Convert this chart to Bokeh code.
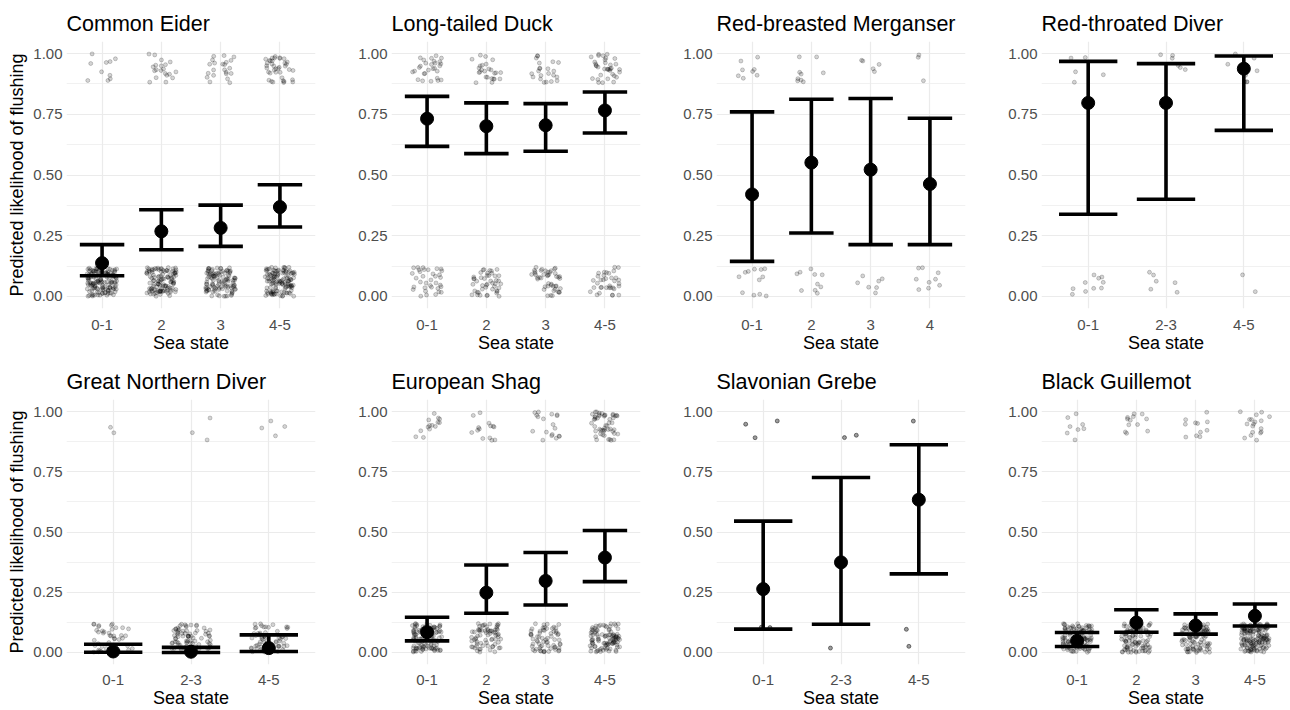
from bokeh.plotting import figure
from bokeh.layouts import row, column
from bokeh.models import ColumnDataSource, FactorRange, Range1d, FixedTicker
from bokeh.transform import jitter, dodge
from bokeh.embed import file_html
from bokeh.resources import INLINE

# ---------------- data ----------------
species = ["Common Eider", "Long-tailed Duck", "Red-breasted Merganser", "Red-throated Diver",
           "Great Northern Diver", "European Shag", "Slavonian Grebe", "Black Guillemot"]

sea_states = [
    ["0-1", "2", "3", "4-5"],
    ["0-1", "2", "3", "4-5"],
    ["0-1", "2", "3", "4"],
    ["0-1", "2-3", "4-5"],
    ["0-1", "2-3", "4-5"],
    ["0-1", "2", "3", "4-5"],
    ["0-1", "2-3", "4-5"],
    ["0-1", "2", "3", "4-5"],
]

fit = [
    [0.137, 0.268, 0.282, 0.368],
    [0.732, 0.701, 0.705, 0.766],
    [0.420, 0.551, 0.522, 0.463],
    [0.797, 0.797, 0.938],
    [0.004, 0.003, 0.018],
    [0.084, 0.248, 0.297, 0.394],
    [0.263, 0.374, 0.634],
    [0.048, 0.124, 0.112, 0.152],
]

lower = [
    [0.085, 0.192, 0.206, 0.286],
    [0.618, 0.588, 0.598, 0.673],
    [0.144, 0.261, 0.213, 0.213],
    [0.338, 0.400, 0.684],
    [0.001, 0.000, 0.004],
    [0.048, 0.163, 0.197, 0.294],
    [0.097, 0.117, 0.326],
    [0.025, 0.084, 0.076, 0.110],
]

upper = [
    [0.213, 0.357, 0.376, 0.460],
    [0.824, 0.797, 0.794, 0.842],
    [0.760, 0.812, 0.815, 0.734],
    [0.968, 0.959, 0.990],
    [0.034, 0.021, 0.073],
    [0.146, 0.363, 0.415, 0.506],
    [0.545, 0.726, 0.862],
    [0.083, 0.177, 0.160, 0.201],
]

# observed outcomes per sea state: number of birds that flushed / did not flush
n_flushed = [
    [10, 20, 22, 38],
    [28, 25, 22, 35],
    [8, 9, 5, 3],
    [5, 6, 9],
    [2, 3, 4],
    [14, 14, 18, 50],
    [3, 2, 1],
    [8, 12, 11, 18],
]

n_not_flushed = [
    [140, 115, 110, 125],
    [35, 45, 45, 35],
    [12, 10, 7, 9],
    [10, 6, 2],
    [40, 80, 60],
    [110, 70, 65, 100],
    [2, 1, 2],
    [120, 100, 100, 150],
]

y_ticks = [0.0, 0.25, 0.50, 0.75, 1.0]
y_minor_ticks = [0.125, 0.375, 0.625, 0.875]
y_tick_labels = ["0.00", "0.25", "0.50", "0.75", "1.00"]

x_title = "Sea state"
y_title = "Predicted likelihood of flushing"

# ---------------- styling / layout ----------------
FONT = "Liberation Sans"
GRID = "#EBEBEB"
col_width = [323, 325, 325, 317]
col_left = [66, 68, 68, 68]
col_right = [8, 8, 8, 0]
row_top = [41, 44]
row_bottom = [47, 45]
row_tick_standoff = [11, 10]
row_label_standoff = [0, 0]
fig_height = 355
point_alpha = {"Slavonian Grebe": 0.65}


def make_panel(i):
    r, c = divmod(i, 4)
    cats = sea_states[i]
    p = figure(
        width=col_width[c], height=fig_height,
        x_range=FactorRange(factors=cats, range_padding=0.1, range_padding_units="absolute"),
        y_range=Range1d(-0.05, 1.05),
        output_backend="svg", toolbar_location=None, tools="",
        min_border_left=col_left[c], min_border_right=col_right[c],
        min_border_top=row_top[r], min_border_bottom=row_bottom[r],
    )
    p.outline_line_color = None
    p.background_fill_color = "white"
    p.border_fill_color = "white"

    p.title.text = species[i]
    p.title.text_font = FONT
    p.title.text_font_size = "21.5px"
    p.title.text_font_style = "normal"
    p.title.text_color = "black"
    p.title.align = "left"
    p.title.standoff = 11

    # grids
    p.xgrid.grid_line_color = GRID
    p.xgrid.grid_line_width = 1.2
    p.ygrid.grid_line_color = GRID
    p.ygrid.grid_line_width = 1.2
    p.ygrid.minor_grid_line_color = GRID
    p.ygrid.minor_grid_line_width = 0.7

    p.yaxis.ticker = FixedTicker(ticks=y_ticks, minor_ticks=y_minor_ticks)
    p.yaxis.major_label_overrides = {t: l for t, l in zip(y_ticks, y_tick_labels)}

    for ax in (p.xaxis[0], p.yaxis[0]):
        ax.axis_line_color = None
        ax.major_tick_line_color = None
        ax.minor_tick_line_color = None
        ax.major_tick_out = 0
        ax.major_tick_in = 0
        ax.minor_tick_out = 0
        ax.minor_tick_in = 0
        ax.major_label_text_font = FONT
        ax.major_label_text_font_size = "15px"
        ax.major_label_text_color = "#4D4D4D"
        ax.axis_label_text_font = FONT
        ax.axis_label_text_font_size = "18px"
        ax.axis_label_text_font_style = "normal"
        ax.axis_label_text_color = "black"
    p.xaxis.major_label_standoff = row_tick_standoff[r]
    p.yaxis.major_label_standoff = 4
    p.xaxis.axis_label = x_title
    p.xaxis.axis_label_standoff = row_label_standoff[r]
    if c == 0:
        p.yaxis.axis_label = y_title
        p.yaxis.axis_label_standoff = 3

    # raw observations (jittered)
    alpha = point_alpha.get(species[i], 0.28)
    for outcome, counts, shift in ((0, n_not_flushed[i], 0.06), (1, n_flushed[i], -0.06)):
        xs, ys = [], []
        for cat, n in zip(cats, counts):
            xs += [cat] * n
            ys += [outcome] * n
        src = ColumnDataSource(dict(x=xs, y=ys))
        p.scatter(x=jitter("x", width=0.5, range=p.x_range),
                  y=jitter("y", width=0.12, mean=shift),
                  source=src, size=4, marker="circle",
                  fill_color="black", fill_alpha=alpha * 0.6,
                  line_color="black", line_alpha=alpha, line_width=0.7)

    # model estimates with error bars
    est = ColumnDataSource(dict(x=cats, fit=fit[i], lo=lower[i], hi=upper[i]))
    p.segment(x0="x", y0="lo", x1="x", y1="hi", source=est,
              line_color="black", line_width=3.6)
    for fld in ("lo", "hi"):
        p.segment(x0=dodge("x", -0.375, range=p.x_range), y0=fld,
                  x1=dodge("x", 0.375, range=p.x_range), y1=fld, source=est,
                  line_color="black", line_width=3.6)
    p.scatter(x="x", y="fit", source=est, size=13, marker="circle",
              fill_color="black", line_color="black")
    return p


panels = [make_panel(i) for i in range(8)]
layout = column(row(*panels[:4]), row(*panels[4:]))
open("out.html", "w").write(file_html(layout, INLINE))
